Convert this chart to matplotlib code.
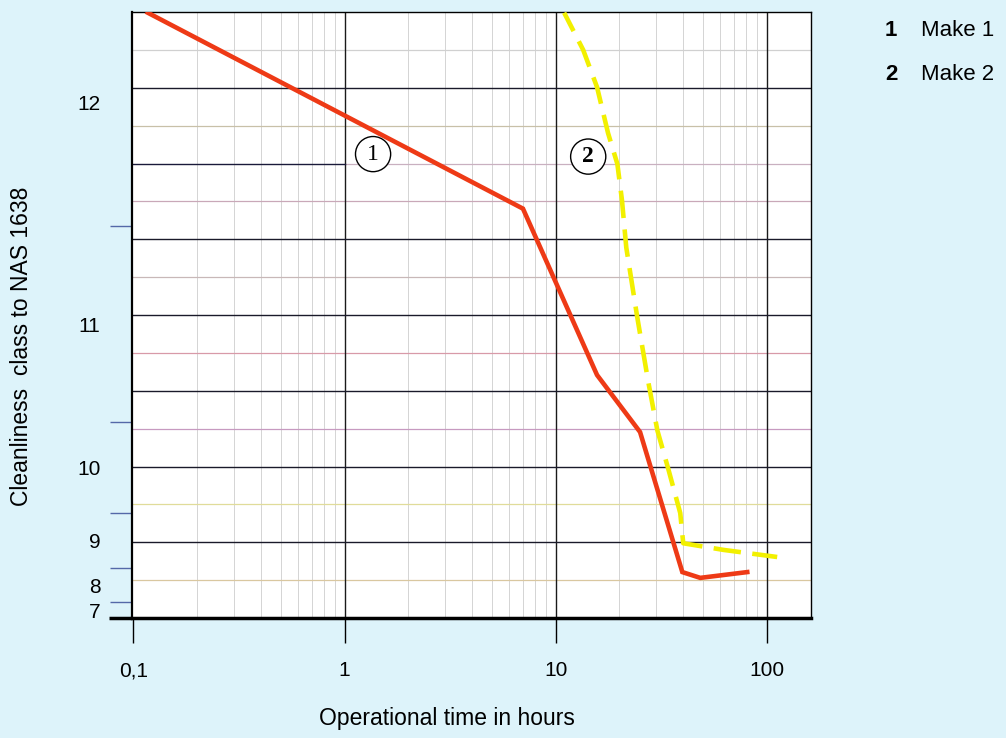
import numpy as np
import matplotlib
matplotlib.use("Agg")
import matplotlib.pyplot as plt

# Cleanliness class (NAS 1638) over operational time, two makes
make1_hours = [0.117, 7.0, 15.7, 25.1, 39.8, 48.4, 80.8]
make1_class = [12.36, 11.57, 10.74, 10.39, 8.38, 8.21, 8.38]

make2_hours = [10.97, 13.5, 15.7, 17.7, 19.6, 20.6, 21.6, 24.3, 27.4, 30.3,
               34.1, 38.9, 40.2, 62.2, 112]
make2_class = [12.36, 12.21, 12.06, 11.875, 11.75, 11.605, 11.39, 11.04, 10.71,
               10.41, 9.99, 9.5, 8.95, 8.83, 8.70]

class_ticks = [7, 8, 9, 10, 11, 12]
class_edges = [7.5, 8.5, 9.5, 10.5, 11.5]
x_ticks = [0.1, 1, 10, 100]
x_tick_labels = ["0,1", "1", "10", "100"]

# the class axis is not linear: band edges -> grid units
band_edges = [6.5, 7.5, 8.5, 9.5, 10.5, 11.5, 12.5]
band_pos = [0, 0.211, 0.660, 1.386, 2.587, 5.175, 8.449]


def fwd(c):
    return np.interp(c, band_edges, band_pos)


def inv(u):
    return np.interp(u, band_pos, band_edges)


plt.rcParams["font.family"] = ["Liberation Sans", "DejaVu Sans"]

fig = plt.figure(figsize=(10.06, 7.38), dpi=100, facecolor="#ddf3fa")
ax = fig.add_axes([0.1317, 0.1626, 0.6745, 0.8211])
ax.set_facecolor("white")

ax.set_xscale("log")
ax.set_yscale("function", functions=(fwd, inv))
ax.set_xlim(0.099, 162)
ax.set_ylim(6.5, float(inv(8.0)))

# vertical grid
for dec in [0.1, 1, 10, 100]:
    for k in range(2, 10):
        if k * dec < 162:
            ax.axvline(k * dec, color="#d4d4d4", lw=0.7, zorder=1)
for x in [1, 10, 100]:
    ax.axvline(x, color="#1a1a1a", lw=1.0, zorder=2)

# horizontal grid: black every unit, faint coloured lines between
half_colors = ["#d9c7a0", "#e0dc9a", "#c79ac0", "#d89aa8",
               "#c8b8b8", "#c9a8b8", "#c8c0a8", "#d0d0d0"]
for i, c in enumerate(half_colors):
    ax.axhline(float(inv(i + 0.5)), color=c, lw=0.9, zorder=1)
for u in range(1, 8):
    y = float(inv(u))
    if u == 6:
        ax.plot([0.099, 1], [y, y], color="#1a1a3a", lw=1.0, zorder=2)
        ax.plot([1, 162], [y, y], color="#c9b0c0", lw=0.9, zorder=1)
    else:
        ax.axhline(y, color="#1a1a2a", lw=1.0, zorder=2)

# curves
ax.plot(make1_hours, make1_class, color="#ee3a16", lw=3.3,
        solid_joinstyle="miter", zorder=5)
ax.plot(make2_hours, make2_class, color="#f2f000", lw=3.3,
        linestyle=(1.5, (6, 2.5)), zorder=4)

# circled curve markers
circ = dict(boxstyle="circle,pad=0.3", fc="white", ec="black", lw=1.0)
ax.text(1.365, 11.79, "1", fontsize=17, family="Liberation Serif",
        ha="center", va="center", bbox=circ, zorder=6)
ax.text(14.26, 11.78, "2", fontsize=17, family="Liberation Serif",
        fontweight="bold", ha="center", va="center", bbox=circ, zorder=6)

# spines
for side in ["top", "right"]:
    ax.spines[side].set_linewidth(1.0)
ax.spines["left"].set_linewidth(1.6)
ax.spines["bottom"].set_linewidth(2.5)
ax.plot([-0.035, 0], [0, 0], transform=ax.transAxes, color="black",
        lw=2.5, clip_on=False, solid_capstyle="butt")

# ticks
ax.set_xticks(x_ticks)
ax.set_xticklabels(x_tick_labels)
ax.xaxis.set_minor_locator(matplotlib.ticker.NullLocator())
ax.tick_params(axis="x", which="major", direction="out", length=18,
               width=1.0, pad=13, labelsize=15)

ax.set_yticks(class_ticks)
ax.set_yticklabels([str(c) for c in class_ticks])
ax.set_yticks(class_edges, minor=True)
ax.tick_params(axis="y", which="major", length=0, pad=23, labelsize=15)
ax.tick_params(axis="y", which="minor", length=16, width=1.0,
               color="#5468a8")

# axis titles
fig.text(447 / 1006, 1 - 718 / 738, "Operational time in hours",
         fontsize=16.5, ha="center", va="center")
fig.text(22 / 1006, 1 - 346 / 738, "Cleanliness  class to NAS 1638",
         fontsize=16.5, rotation=90, ha="center", va="center")

# legend at right
for i, name in enumerate(["Make 1", "Make 2"]):
    y = 1 - (30 + 44 * i) / 738
    fig.text(885 / 1006, y, str(i + 1), fontsize=16, fontweight="bold",
             ha="left", va="center")
    fig.text(921 / 1006, y, name, fontsize=16, ha="left", va="center")

fig.savefig("out.png", dpi=100, facecolor=fig.get_facecolor())
